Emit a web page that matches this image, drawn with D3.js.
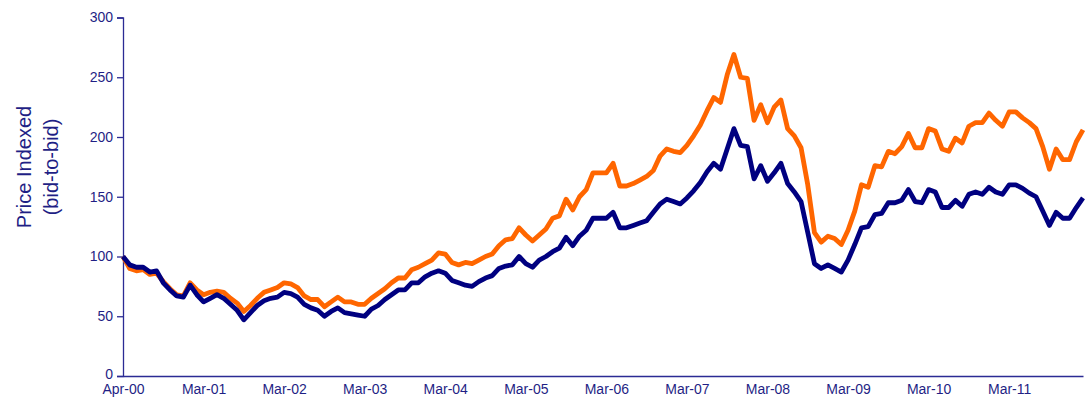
<!doctype html>
<html>
  <head>
    <title>Price Indexed</title>
    <style>
      body { margin: 0; background: #fff; }
      svg { display: block; font-family: "Liberation Sans", Arial, sans-serif; }
    </style>
  </head>
  <script src="https://cdnjs.cloudflare.com/ajax/libs/d3/7.8.5/d3.min.js"></script>
  <body>
    <svg id="chart" width="1088" height="400"></svg>
    <script>

    // monthly points, Apr-00 .. Mar-12
    var orange = [100,90,88,89,85,86,79,73,68,67,78,72,68,70,71,70,65,61,54,59,
      65,70,72,74,78,77,74,67,64,64,58,62,66,62,62,60,60,65,69,73,
      78,82,82,89,91,94,97,103,102,95,93,95,94,97,100,102,109,114,115,124,
      118,113,118,123,132,134,148,139,150,156,170,170,170,178,159,159,161,164,167,172,
      184,190,188,187,193,201,210,222,233,229,252,269,250,249,214,227,212,225,231,207,
      201,191,160,120,112,117,115,110,122,138,160,158,176,175,188,186,192,203,191,191,
      207,205,190,188,199,195,209,212,212,220,214,209,221,221,216,212,207,192,173,190,
      181,181,196,206];

    var navy = [100,93,91,91,87,88,78,72,67,66,76,68,62,65,68,65,60,55,47,53,
      59,63,65,66,70,69,66,60,57,55,50,54,57,53,52,51,50,56,59,64,
      68,72,72,78,78,83,86,88,86,80,78,76,75,79,82,84,90,92,93,100,
      94,91,97,100,104,107,116,109,117,122,132,132,132,137,124,124,126,128,130,137,
      144,148,146,144,149,155,162,171,178,173,190,207,193,192,165,176,163,170,178,161,
      154,146,120,94,90,93,90,87,97,110,124,125,135,136,145,145,147,156,146,145,
      156,154,141,141,147,142,152,154,152,158,154,152,160,160,157,153,150,138,126,137,
      132,132,141,149];

    var xTickLabels = ["Apr-00","Mar-01","Mar-02","Mar-03","Mar-04","Mar-05",
      "Mar-06","Mar-07","Mar-08","Mar-09","Mar-10","Mar-11"];
    var yTicks = [0,50,100,150,200,250,300];

    var axisCol = "#2b2b94";
    var textCol = "#1f1f85";

    var svg = d3.select("#chart");

    var x = d3.scaleLinear().domain([0, navy.length - 1]).range([123, 1083]);
    var y = d3.scaleLinear().domain([0, 300]).range([376, 17.5]);

    // y axis
    var yAxis = svg.append("g")
      .attr("transform", "translate(123,0)")
      .call(d3.axisLeft(y).tickValues(yTicks).tickSize(6).tickPadding(4));
    yAxis.select(".domain").attr("stroke", axisCol).attr("stroke-width", 1.3);
    yAxis.selectAll(".tick line").attr("stroke", axisCol).attr("stroke-width", 1.3);
    yAxis.selectAll("text").attr("fill", textCol).style("font-size", "14px").style("font-family", "Liberation Sans, Arial");
    yAxis.selectAll(".tick").filter(function(d){ return d === 0; }).select("text").attr("dy", "0.2em");

    // x axis
    var xAxis = svg.append("g")
      .attr("transform", "translate(0,376)")
      .call(d3.axisBottom(x)
        .tickValues(xTickLabels.map(function(d, i){ return i * 12; }))
        .tickFormat(function(d){ return xTickLabels[d / 12]; })
        .tickSize(0).tickPadding(8));
    xAxis.select(".domain").attr("stroke", axisCol).attr("stroke-width", 1.3);
    xAxis.selectAll("text").attr("fill", textCol).style("font-size", "14px").style("font-family", "Liberation Sans, Arial");

    // y label
    var yl = svg.append("text")
      .attr("transform", "translate(0,167) rotate(-90)")
      .attr("text-anchor", "middle")
      .attr("fill", textCol)
      .style("font-size", "20px");
    yl.append("tspan").attr("x", 0).attr("y", 31).text("Price Indexed");
    yl.append("tspan").attr("x", 0).attr("y", 58).text("(bid-to-bid)");

    var line = d3.line()
      .x(function(d, i){ return x(i); })
      .y(function(d){ return y(d); });

    svg.append("path").datum(orange)
      .attr("d", line)
      .attr("fill", "none")
      .attr("stroke", "#ff6600")
      .attr("stroke-width", 4.8)
      .attr("stroke-linejoin", "round");

    svg.append("path").datum(navy)
      .attr("d", line)
      .attr("fill", "none")
      .attr("stroke", "#000080")
      .attr("stroke-width", 4.8)
      .attr("stroke-linejoin", "round");

  </script>
  </body>
</html>
